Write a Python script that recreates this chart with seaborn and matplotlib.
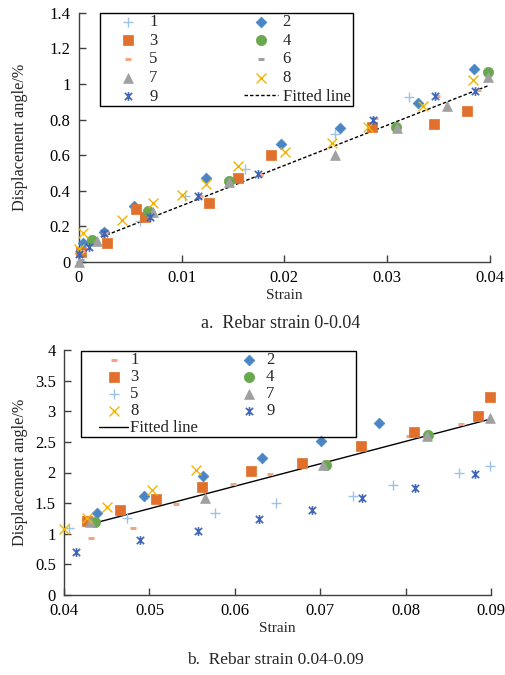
import numpy as np
import pandas as pd
import matplotlib
matplotlib.use("Agg")
import matplotlib.pyplot as plt
from matplotlib.path import Path
from matplotlib.patches import Rectangle
import seaborn as sns

# ---- data: panel a (rebar strain 0-0.04) ----
a1_x = [0.0008, 0.006, 0.0103, 0.0162, 0.0249, 0.0321]
a1_y = [0.12, 0.23, 0.37, 0.52, 0.72, 0.925]
a2_x = [0.0004, 0.0025, 0.0054, 0.0124, 0.0197, 0.0254, 0.033, 0.0385]
a2_y = [0.107, 0.17, 0.315, 0.47, 0.663, 0.753, 0.894, 1.085]
a3_x = [0.0002, 0.0027, 0.0056, 0.0064, 0.0127, 0.0155, 0.0187, 0.0285, 0.0346, 0.0378]
a3_y = [0.055, 0.105, 0.30, 0.25, 0.33, 0.47, 0.60, 0.76, 0.775, 0.85]
a4_x = [0.0013, 0.0067, 0.0146, 0.0309, 0.0398]
a4_y = [0.124, 0.285, 0.455, 0.757, 1.065]
a5_x = [0.0003, 0.0026, 0.0071, 0.0118, 0.0176, 0.0288, 0.0349, 0.0388]
a5_y = [0.06, 0.16, 0.26, 0.37, 0.49, 0.81, 0.93, 0.965]
a6_x = [0.0, 0.0002]
a6_y = [0.0, 0.01]
a7_x = [0.0, 0.0018, 0.0072, 0.0146, 0.0249, 0.031, 0.0358, 0.0398]
a7_y = [0.0, 0.115, 0.28, 0.45, 0.60, 0.75, 0.877, 1.04]
a8_x = [0.0, 0.0004, 0.0042, 0.0072, 0.01, 0.0124, 0.0155, 0.0201, 0.0246, 0.0281, 0.0335, 0.0384]
a8_y = [0.07, 0.16, 0.235, 0.33, 0.375, 0.44, 0.54, 0.62, 0.67, 0.76, 0.877, 1.02]
a9_x = [0.0, 0.001, 0.0025, 0.0069, 0.0116, 0.0174, 0.0286, 0.0347, 0.0386]
a9_y = [0.045, 0.085, 0.16, 0.25, 0.37, 0.495, 0.80, 0.93, 0.96]
a_fit = (22.6, 0.09)          # slope, intercept
a_fit_range = (0.0022, 0.0399)

# ---- data: panel b (rebar strain 0.04-0.09) ----
b1_x = [0.0432, 0.0481, 0.0531, 0.0598, 0.0641, 0.0707, 0.0804, 0.0865]
b1_y = [0.93, 1.10, 1.49, 1.82, 1.98, 2.18, 2.59, 2.79]
b2_x = [0.0439, 0.0493, 0.0563, 0.0632, 0.0701, 0.0769]
b2_y = [1.34, 1.62, 1.95, 2.24, 2.52, 2.80]
b3_x = [0.0427, 0.0466, 0.0508, 0.0562, 0.0619, 0.0679, 0.0748, 0.081, 0.0885, 0.0899]
b3_y = [1.21, 1.38, 1.57, 1.76, 2.02, 2.16, 2.43, 2.66, 2.92, 3.23]
b4_x = [0.0436, 0.0707, 0.0826]
b4_y = [1.20, 2.13, 2.61]
b5_x = [0.0406, 0.0474, 0.0577, 0.0648, 0.0738, 0.0785, 0.0863, 0.0899]
b5_y = [1.10, 1.25, 1.34, 1.50, 1.62, 1.80, 2.00, 2.11]
b7_x = [0.0430, 0.0565, 0.0703, 0.0825, 0.0899]
b7_y = [1.20, 1.59, 2.12, 2.60, 2.89]
b8_x = [0.0400, 0.0427, 0.045, 0.0503, 0.0555]
b8_y = [1.08, 1.25, 1.44, 1.71, 2.04]
b9_x = [0.0414, 0.0489, 0.0557, 0.0628, 0.069, 0.0749, 0.0811, 0.0881]
b9_y = [0.71, 0.89, 1.05, 1.24, 1.39, 1.59, 1.75, 1.98]
b_fit = (36.6, -0.42)
b_fit_range = (0.0432, 0.0899)

# ---- styles ----
C_LBLUE = "#9dc3e6"
C_BLUE = "#4a86c5"
C_ORANGE = "#e0702b"
C_GREEN = "#6aa84f"
C_SALMON = "#f4a582"
C_GRAY = "#a0a0a0"
C_YELLOW = "#f2b400"
C_DBLUE = "#3f66b8"

star = Path([(-1, -1), (1, 1), (-1, 1), (1, -1), (0, -1.2), (0, 1.2)],
            [Path.MOVETO, Path.LINETO, Path.MOVETO, Path.LINETO, Path.MOVETO, Path.LINETO])

styles = {
    "plus": dict(marker="+", s=60, linewidth=1.0),
    "diamond": dict(marker="D", s=30, linewidth=0.5),
    "square": dict(marker="s", s=55, linewidth=0.5),
    "circle": dict(marker="o", s=55, linewidth=0.5),
    "dash": dict(marker="_", s=25, linewidth=2.2),
    "triangle": dict(marker="^", s=50, linewidth=0.5),
    "x": dict(marker="x", s=50, linewidth=1.0),
    "star": dict(marker=star, s=40, linewidth=1.2),
}

sns.set_style("ticks")
plt.rcParams["font.family"] = ["Liberation Serif", "DejaVu Serif"]
plt.rcParams["xtick.direction"] = "in"
plt.rcParams["ytick.direction"] = "in"
plt.rcParams["axes.edgecolor"] = "#404040"
plt.rcParams["xtick.color"] = "#404040"
plt.rcParams["ytick.color"] = "#404040"
plt.rcParams["xtick.labelcolor"] = "black"
plt.rcParams["ytick.labelcolor"] = "black"

fig = plt.figure(figsize=(5.05, 6.75), dpi=100)
ax1 = fig.add_axes([0.156, 0.612, 0.814, 0.369])
ax2 = fig.add_axes([0.127, 0.1185, 0.845, 0.363])


def scatter(ax, x, y, color, kind, label):
    st = dict(styles[kind])
    sns.scatterplot(x=x, y=y, ax=ax, color=color, edgecolor=color,
                    label=label, zorder=3, clip_on=False, **st)


def fit_line(ax, fit, rng, ls, label):
    xs = np.array(rng)
    ys = fit[0] * xs + fit[1]
    sns.lineplot(x=xs, y=ys, ax=ax, color="black", linestyle=ls,
                 linewidth=1.0, label=label, zorder=2)


def boxed(leg, pad_l, pad_r, pad_t, pad_b):
    # draw a plain frame around the legend, with separate paddings in pixels
    fig.canvas.draw()
    bb = leg.get_window_extent()
    W, H = fig.bbox.width, fig.bbox.height
    x0, x1 = bb.x0 - pad_l, bb.x1 + pad_r
    y0, y1 = bb.y0 - pad_b, bb.y1 + pad_t
    fig.add_artist(Rectangle((x0 / W, y0 / H), (x1 - x0) / W, (y1 - y0) / H,
                             transform=fig.transFigure, fill=False,
                             edgecolor="black", linewidth=1.0, zorder=5))


# panel a
scatter(ax1, a1_x, a1_y, C_LBLUE, "plus", "1")
scatter(ax1, a2_x, a2_y, C_BLUE, "diamond", "2")
scatter(ax1, a3_x, a3_y, C_ORANGE, "square", "3")
scatter(ax1, a4_x, a4_y, C_GREEN, "circle", "4")
scatter(ax1, a5_x, a5_y, C_SALMON, "dash", "5")
scatter(ax1, a6_x, a6_y, C_GRAY, "dash", "6")
scatter(ax1, a7_x, a7_y, C_GRAY, "triangle", "7")
scatter(ax1, a8_x, a8_y, C_YELLOW, "x", "8")
scatter(ax1, a9_x, a9_y, C_DBLUE, "star", "9")
fit_line(ax1, a_fit, a_fit_range, (0, (2.5, 1.5)), "Fitted line")

ax1.set_xlim(0, 0.04)
ax1.set_ylim(0, 1.4)
ax1.set_xticks([0, 0.01, 0.02, 0.03, 0.04])
ax1.set_xticklabels(["0", "0.01", "0.02", "0.03", "0.04"])
ax1.set_yticks(np.arange(0, 1.41, 0.2))
ax1.set_yticklabels(["0", "0.2", "0.4", "0.6", "0.8", "1", "1.2", "1.4"])
ax1.set_xlabel("Strain", fontsize=11, labelpad=2)
ax1.set_ylabel("Displacement angle/%", fontsize=11.7)
ax1.yaxis.set_label_coords(-0.123, 0.5)

h, l = ax1.get_legend_handles_labels()
order = ["1", "3", "5", "7", "9", "2", "4", "6", "8", "Fitted line"]
idx = [l.index(o) for o in order]
leg1 = ax1.legend([h[i] for i in idx], [l[i] for i in idx], ncol=2, loc="upper left",
                  bbox_to_anchor=(0.078, 0.995), borderaxespad=0, fontsize=12,
                  frameon=False, borderpad=0.0, labelspacing=0.16,
                  handletextpad=0.3, columnspacing=5.2, handlelength=2.0)

# panel b
scatter(ax2, b1_x, b1_y, C_SALMON, "dash", "1")
scatter(ax2, b2_x, b2_y, C_BLUE, "diamond", "2")
scatter(ax2, b3_x, b3_y, C_ORANGE, "square", "3")
scatter(ax2, b4_x, b4_y, C_GREEN, "circle", "4")
scatter(ax2, b5_x, b5_y, C_LBLUE, "plus", "5")
scatter(ax2, b7_x, b7_y, C_GRAY, "triangle", "7")
scatter(ax2, b8_x, b8_y, C_YELLOW, "x", "8")
scatter(ax2, b9_x, b9_y, C_DBLUE, "star", "9")
fit_line(ax2, b_fit, b_fit_range, "-", "Fitted line")

ax2.set_xlim(0.04, 0.09)
ax2.set_ylim(0, 4)
ax2.set_xticks([0.04, 0.05, 0.06, 0.07, 0.08, 0.09])
ax2.set_xticklabels(["0.04", "0.05", "0.06", "0.07", "0.08", "0.09"])
ax2.set_yticks(np.arange(0, 4.01, 0.5))
ax2.set_yticklabels(["0", "0.5", "1", "1.5", "2", "2.5", "3", "3.5", "4"])
ax2.set_xlabel("Strain", fontsize=11, labelpad=2)
ax2.set_ylabel("Displacement angle/%", fontsize=11.7)
ax2.yaxis.set_label_coords(-0.084, 0.5)

h, l = ax2.get_legend_handles_labels()
order = ["1", "3", "5", "8", "Fitted line", "2", "4", "7", "9"]
idx = [l.index(o) for o in order]
leg2 = ax2.legend([h[i] for i in idx], [l[i] for i in idx], ncol=2, loc="upper left",
                  bbox_to_anchor=(0.082, 0.99), borderaxespad=0, fontsize=12,
                  frameon=False, borderpad=0.0, labelspacing=0.06,
                  handletextpad=0.12, columnspacing=2.2, handlelength=1.75)

for ax in (ax1, ax2):
    sns.despine(ax=ax)
    ax.tick_params(labelsize=12, length=5, width=1, pad=6)
    ax.spines["left"].set_linewidth(1.0)
    ax.spines["bottom"].set_linewidth(1.0)

fig.text(0.555, 0.521, "a.  Rebar strain 0-0.04", ha="center", va="center", fontsize=13)
fig.text(0.545, 0.022, "b.  Rebar strain 0.04-0.09", ha="center", va="center", fontsize=12.5)

boxed(leg1, 11, 3, 1, 1)
boxed(leg2, 18, 82, 1, 1)

fig.savefig("out.png", dpi=100)
